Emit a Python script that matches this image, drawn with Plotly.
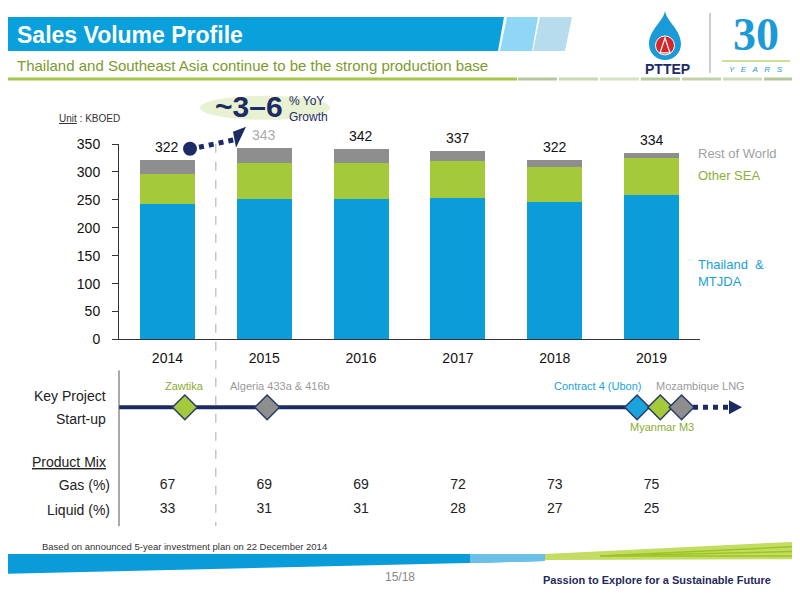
import plotly.graph_objects as go

# ---------------- data ----------------
years = [2014, 2015, 2016, 2017, 2018, 2019]
thailand_mtjda = [243, 252, 251, 253, 246, 259]
other_sea = [54, 65, 66, 66, 63, 66]
rest_of_world = [25, 26, 25, 18, 13, 9]
total_labels = [322, 343, 342, 337, 322, 334]
y_ticks = [0, 50, 100, 150, 200, 250, 300, 350]
gas_pct = [67, 69, 69, 72, 73, 75]
liquid_pct = [33, 31, 31, 28, 27, 25]
mix_rows = ["Liquid (%)", "Gas (%)"]
projects = ["Zawtika", "Algeria 433a & 416b", "Contract 4 (Ubon)", "Myanmar M3", "Mozambique LNG"]
project_pos = [2014.18, 2015.03, 2018.85, 2019.09, 2019.31]

# ---------------- style ----------------
BLUE = "#0a9dda"
GREEN = "#a4c93b"
GRAY = "#8e8e8e"
NAVY = "#1c2b66"
FONT = "Liberation Sans, Arial, sans-serif"
W, H = 800, 600
# page placement of the figure in the viewer (measured): left 8 px, top 15 px, 585 px tall
OX, OY, PH = 8, 15, 585


def X(px):
    return (px - OX) / W


def Y(py):
    return 1 - (py - OY) / PH


def path(pts, close=True):
    s = "M " + " L ".join(f"{X(a):.5f},{Y(b):.5f}" for a, b in pts)
    return s + (" Z" if close else "")


def bez(cmds):
    out = []
    for c in cmds:
        pts = " ".join(f"{X(a):.5f},{Y(b):.5f}" for a, b in c[1:])
        out.append(f"{c[0]} {pts}")
    return " ".join(out) + " Z"


shapes = []
ann = []


def txt(text, px, py, size, color, xanchor="center", yanchor="middle", family=FONT, align="center"):
    ann.append(dict(text=text, x=X(px), y=Y(py), xref="paper", yref="paper", xanchor=xanchor,
                    yanchor=yanchor, align=align, showarrow=False,
                    font=dict(size=size, color=color, family=family)))


def pline(x0, y0, x1, y1, color, width, dash="solid", layer="above"):
    shapes.append(dict(type="line", xref="paper", yref="paper", x0=X(x0), x1=X(x1), y0=Y(y0), y1=Y(y1),
                       line=dict(color=color, width=width, dash=dash), layer=layer))


def ppoly(pts, color, layer="above"):
    shapes.append(dict(type="path", xref="paper", yref="paper", layer=layer, path=path(pts),
                       fillcolor=color, line=dict(width=0)))


fig = go.Figure()

# stacked bars
for name, vals, col in [("Thailand & MTJDA", thailand_mtjda, BLUE),
                        ("Other SEA", other_sea, GREEN),
                        ("Rest of World", rest_of_world, GRAY)]:
    fig.add_trace(go.Bar(x=years, y=vals, name=name, marker=dict(color=col, line=dict(width=0)),
                         width=0.567, xaxis="x", yaxis="y", hoverinfo="skip"))

# project diamonds on timeline
proj_colors = [GREEN, GRAY, "#1ba3dc", GREEN, GRAY]
fig.add_trace(go.Scatter(x=project_pos, y=[0.5] * len(project_pos), mode="markers",
                         marker=dict(symbol="diamond", size=19, color=proj_colors,
                                     line=dict(color="#2b3a68", width=1.5)),
                         xaxis="x", yaxis="y2", cliponaxis=False, hoverinfo="skip"))

# product mix text rows
fig.add_trace(go.Scatter(x=years, y=["Gas (%)"] * len(years), mode="text", text=[str(v) for v in gas_pct],
                         textfont=dict(size=14, color="#222", family=FONT), xaxis="x", yaxis="y3",
                         cliponaxis=False, hoverinfo="skip"))
fig.add_trace(go.Scatter(x=years, y=["Liquid (%)"] * len(years), mode="text", text=[str(v) for v in liquid_pct],
                         textfont=dict(size=14, color="#222", family=FONT), xaxis="x", yaxis="y3",
                         cliponaxis=False, hoverinfo="skip"))

# ---- header ----
ppoly([(0, 16), (504, 16), (498, 50), (0, 50)], "#0aa0dc", "below")
ppoly([(507, 16), (538, 16), (532, 50), (500, 50)], "#90d6f5", "below")
ppoly([(540, 16), (572, 16), (565, 50), (533, 50)], "#b7dced", "below")
txt("<b>Sales Volume Profile</b>", 15, 34, 23, "white", xanchor="left")
txt("Thailand and Southeast Asia continue to be the strong production base", 15, 65, 15, "#7d9a2c",
    xanchor="left")
pline(0, 78, 517, 78, "#a6c64a", 3)
xs = 518
dash_cols = ["#b5c79a", "#c9d8b3", "#d6e2c4", "#b8ca9e", "#c3d1a8", "#cfdcbb", "#b5c79a", "#c9d8b3"]
i = 0
while xs < 808:
    pline(xs, 78, min(xs + 39, 808), 78, dash_cols[i % len(dash_cols)], 3)
    xs += 41
    i += 1

# ---- logo ----
shapes.append(dict(type="path", xref="paper", yref="paper",
                   path=bez([("M", (665, 10)), ("C", (667, 21), (681, 29), (681, 43)),
                             ("C", (681, 52), (674, 59), (665, 59)), ("C", (656, 59), (649, 52), (649, 43)),
                             ("C", (649, 29), (663, 21), (665, 10))]),
                   fillcolor="#1a9ad6", line=dict(width=0)))
shapes.append(dict(type="circle", xref="paper", yref="paper", x0=X(655.5), x1=X(674.5), y0=Y(35), y1=Y(54),
                   fillcolor="#d7262b", line=dict(color="white", width=1)))
shapes.append(dict(type="path", xref="paper", yref="paper", path=path([(665, 37), (660, 52), (670, 52)]),
                   fillcolor="rgba(0,0,0,0)", line=dict(color="white", width=1.2)))
txt("<b>PTTEP</b>", 667, 68, 14, NAVY)
pline(710, 12, 710, 72, "#9aa0a8", 1)
txt("<b>30</b>", 756, 34, 46, "#1a9ad6", family="Liberation Serif, serif")
pline(722, 60, 790, 60, "#b9d873", 1.5)
txt("<i>Y   E   A   R   S</i>", 756, 69, 8, "#1a9ad6")

# ---- chart annotations ----
txt("<u>Unit</u> : KBOED", 57, 118, 10, "#333", xanchor="left")
shapes.append(dict(type="circle", xref="paper", yref="paper", x0=X(200), x1=X(330), y0=Y(95), y1=Y(119),
                   fillcolor="#e8f1d2", line=dict(width=0), layer="below"))
txt("<b>~3\u20136</b>", 285, 106, 30, NAVY, xanchor="right")
txt("% YoY<br>Growth", 287, 108, 12, NAVY, xanchor="left", align="left")
shapes.append(dict(type="circle", xref="paper", yref="paper", x0=X(183), x1=X(197), y0=Y(141), y1=Y(155),
                   fillcolor=NAVY, line=dict(width=0)))
pline(199, 146.5, 234, 139, NAVY, 5, "dot")
ppoly([(233, 131), (236, 147), (246, 126)], NAVY)

for yr, tot in zip(years, total_labels):
    ann.append(dict(text=str(tot), x=yr, y=tot, xref="x", yref="y", xanchor="center", yanchor="bottom",
                    yshift=3, showarrow=False,
                    font=dict(size=14, color="#aaaaaa" if yr == 2015 else "#111", family=FONT)))

txt("Rest of World", 696, 153, 13, "#a0a0a0", xanchor="left")
txt("Other SEA", 696, 175, 13, "#8db03a", xanchor="left")
txt("Thailand  &<br>MTJDA", 696, 272, 13, "#1a9fd9", xanchor="left", align="left")

# separators
shapes.append(dict(type="line", xref="x", yref="paper", x0=2014.5, x1=2014.5, y0=Y(143), y1=Y(526),
                   line=dict(color="#aaaaaa", width=1, dash="dash")))
pline(119, 370, 119, 526, "#555", 1)

# timeline
pline(119, 407, 690, 407, NAVY, 4, layer="below")
pline(693, 407, 728, 407, NAVY, 5, "dot")
ppoly([(729, 400), (742, 407), (729, 414)], NAVY)
txt("Key Project", 108, 396, 14, "#222", xanchor="right")
txt("Start-up", 108, 419, 14, "#222", xanchor="right")

label_cfg = [("center", 0, True), ("center", 13, True), ("right", 6, True), ("center", 2, False),
             ("left", -28, True)]
for name, pos, col, (xa, xsh, above) in zip(projects, project_pos, proj_colors, label_cfg):
    col_t = {GREEN: "#8aac30", GRAY: "#9a9a9a"}.get(col, "#1ba3dc")
    ann.append(dict(text=name, x=pos, y=0.5, xref="x", yref="y2", xanchor=xa, yanchor="middle", xshift=xsh,
                    yshift=21 if above else -20, showarrow=False,
                    font=dict(size=11, color=col_t, family=FONT)))

txt("<u>Product Mix</u>", 108, 462, 14, "#222", xanchor="right")

# ---- footer ----
txt("Based on announced 5-year investment plan on 22 December 2014", 40, 546, 9.5, "#333", xanchor="left")
ppoly([(0, 554), (545, 554), (545, 561), (0, 574)], "#0a9bd9", "below")
ppoly([(470, 554), (545, 554), (545, 561), (470, 563)], "#6cc0e8", "below")
ppoly([(545, 554), (808, 541), (808, 559), (545, 560)], "#c3dc62", "below")
for yy in [546, 551, 556]:
    pline(600, 556, 808, yy, "#9cc427", 1.5)
txt("15/18", 400, 577, 12, "#888")
txt("<b>Passion to Explore for a Sustainable Future</b>", 541, 580, 11, "#1f2a5c", xanchor="left")

fig.update_layout(
    width=W, height=H, margin=dict(l=0, r=0, t=0, b=0),
    paper_bgcolor="white", plot_bgcolor="white", showlegend=False, barmode="stack",
    font=dict(family=FONT, color="#222"),
    xaxis=dict(domain=[X(119), X(700)], range=[2013.5, 2019.5], tickvals=years,
               ticktext=[str(y) for y in years], showline=True, linecolor="#333", linewidth=1,
               ticks="", showgrid=False, zeroline=False, anchor="y", ticklabelstandoff=6,
               tickfont=dict(size=14, color="#111", family=FONT), fixedrange=True),
    yaxis=dict(domain=[Y(339), Y(143.3)], range=[0, 350], tickvals=y_ticks, showline=True,
               linecolor="#333", linewidth=1, ticks="outside", ticklen=6, tickcolor="#333",
               showgrid=False, zeroline=False, anchor="x", ticklabelstandoff=9,
               tickfont=dict(size=14, color="#111", family=FONT)),
    yaxis2=dict(domain=[Y(447), Y(367)], range=[0, 1], visible=False, anchor="x"),
    yaxis3=dict(domain=[Y(522), Y(473)], type="category", categoryorder="array", categoryarray=mix_rows,
                range=[-0.5, 1.5], anchor="free", position=X(119), showline=False, ticks="",
                showgrid=False, zeroline=False, ticklabelstandoff=9,
                tickfont=dict(size=14, color="#222", family=FONT)),
    shapes=shapes, annotations=ann,
)

fig.write_html("out.html")
